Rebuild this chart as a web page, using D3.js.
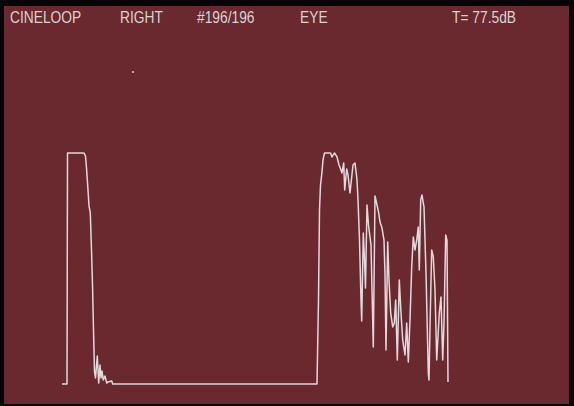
<!DOCTYPE html>
<html>
<head>
<meta charset="utf-8">
<script src="https://cdn.jsdelivr.net/npm/d3@7"></script>
<style>
  html, body { margin: 0; padding: 0; background: #050505; }
  svg { display: block; }
</style>
</head>
<body>
<script>
// Header readouts of the A-scan display
const headerLabels = ["CINELOOP", "RIGHT", "#196/196", "EYE", "T= 77.5dB"];

// A-scan trace: sample position along the beam and echo amplitude (%)
const depth = [
  0, 5, 5.5, 22, 23.5, 24.5, 26, 27, 27.8, 28.3, 29.5, 30.5, 31.5, 32.5, 33.5,
  35.3, 36.7, 38, 39, 40, 41.3, 43, 44.7, 46, 49.7, 50.7, 255,
  256.5, 257.5, 258.5, 260, 261, 262.5, 268.5, 270, 271, 272.5, 275, 277, 279,
  280, 281.7, 282.7, 284.7, 286, 288, 291, 293, 295, 296, 297.5, 299, 299.7,
  301.3, 302.5, 303.5, 305, 306.5, 308, 309, 310, 311.3, 313, 315, 316.5, 318,
  320, 322, 323, 324, 325.7, 327, 328.7, 330.7, 332.3, 333.7, 335.3, 337.3,
  339, 340.7, 343, 344.7, 346.3, 348, 349.7, 351.3, 353, 354.7, 356.3, 357.3,
  358.7, 360, 362, 364, 366.3, 367, 368, 369.7, 371.3, 373, 374.7, 377.3, 379,
  380.7, 382, 383.7, 385, 386
];
const amplitude = [
  0, 0, 100, 100, 98.7, 93.5, 84, 77.1, 75.3, 74, 58, 42.9, 23.4, 5.2, 2.6,
  12.1, 0.4, 8.2, 2.6, 5.6, 1.7, 3.5, 0.4, 0.9, 1.3, 0, 0,
  36.4, 75.3, 86.1, 91.8, 97.0, 100, 100, 98.3, 99.1, 100, 98.3, 94.8, 92.6,
  91.3, 95.7, 84.0, 93.1, 90.5, 82.7, 94.8, 95.7, 88.3, 79.7, 62.3, 36.4, 27.3,
  65.4, 53.7, 41.6, 77.5, 68.8, 63.6, 60.2, 40.7, 16.0, 81.4, 77.5, 74.5, 70.1,
  67.5, 62.3, 47.2, 14.7, 61.5, 45.0, 30.7, 24.7, 26.4, 36.4, 10.4, 45.0,
  30.7, 19.0, 12.6, 26.4, 9.5, 27.7, 50.6, 63.6, 58.0, 62.3, 68.0, 49.4,
  79.7, 81.8, 76.6, 48.1, 4.8, 1.7, 24.7, 58.0, 55.0, 40.7, 10.4, 30.7, 37.7,
  10.4, 26.4, 64.5, 62.3, 0.9
];

const W = 574, H = 406;
const svg = d3.select("body").append("svg")
  .attr("width", W).attr("height", H);

// black bezel with the maroon screen inside
svg.append("rect").attr("width", W).attr("height", H).attr("fill", "#050505");
svg.append("rect")
  .attr("x", 4).attr("y", 6).attr("width", 565).attr("height", 398)
  .attr("fill", "#69292f");

// header text along the top of the screen (slightly condensed monitor font)
const headerX = [10, 120, 197, 300, 452];
svg.selectAll("text.hdr").data(headerLabels).join("text")
  .attr("class", "hdr")
  .attr("transform", (d, i) => `translate(${headerX[i]},23) scale(0.92,1.08)`)
  .attr("fill", "#d9d3d4")
  .attr("font-family", "'Liberation Sans', Arial, sans-serif")
  .attr("font-size", 15)
  .text(d => d);

const x = d3.scaleLinear().domain([0, 386]).range([62, 448]);
const y = d3.scaleLinear().domain([0, 100]).range([384, 153]);

const pts = depth.map((d, i) => [d, amplitude[i]]);
const line = d3.line().x(d => x(d[0])).y(d => y(d[1]));

svg.append("path")
  .datum(pts)
  .attr("d", line)
  .attr("fill", "none")
  .attr("stroke", "#e0dadb")
  .attr("stroke-width", 1.5)
  .attr("stroke-linejoin", "round");

// small cursor speck on the screen
svg.append("rect").attr("x", 132).attr("y", 71).attr("width", 2).attr("height", 2)
  .attr("fill", "#b8a9aa");
</script>
</body>
</html>
